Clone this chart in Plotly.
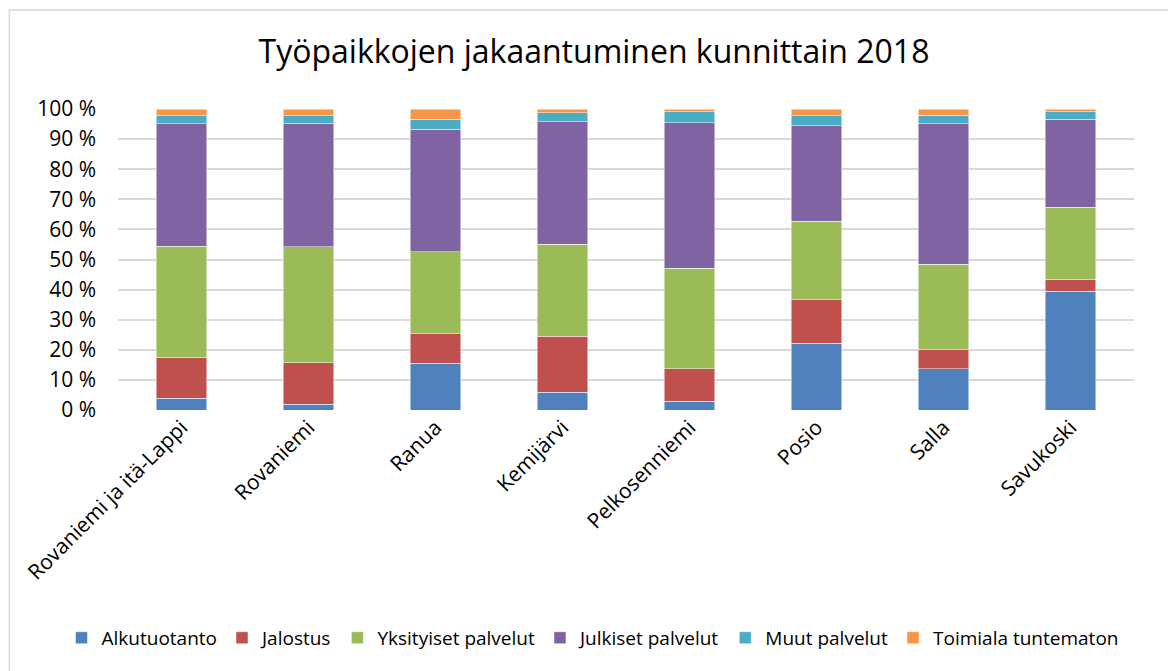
import plotly.graph_objects as go

categories = ["Rovaniemi ja itä-Lappi", "Rovaniemi", "Ranua", "Kemijärvi",
              "Pelkosenniemi", "Posio", "Salla", "Savukoski"]
series_names = ["Alkutuotanto", "Jalostus", "Yksityiset palvelut",
                "Julkiset palvelut", "Muut palvelut", "Toimiala tuntematon"]
alkutuotanto = [3.9, 1.9, 15.5, 5.9, 2.9, 22.1, 13.7, 39.4]
jalostus = [13.6, 13.8, 9.9, 18.6, 10.8, 14.6, 6.3, 4.0]
yksityiset = [36.9, 38.5, 27.1, 30.6, 33.4, 26.0, 28.5, 23.9]
julkiset = [40.7, 41.0, 40.7, 40.7, 48.4, 31.8, 46.6, 29.3]
muut = [2.7, 2.6, 3.4, 3.0, 3.6, 3.2, 2.8, 2.5]
tuntematon = [2.2, 2.2, 3.4, 1.2, 0.9, 2.3, 2.1, 0.9]
tick_vals = [0, 10, 20, 30, 40, 50, 60, 70, 80, 90, 100]
tick_text = [f"{v} %" for v in tick_vals]

colors = ["#4F81BD", "#C0504D", "#9BBB59", "#8064A2", "#4BACC6", "#F79646"]
all_series = [alkutuotanto, jalostus, yksityiset, julkiset, muut, tuntematon]

FONT = "Open Sans"
fig = go.Figure()
for name, vals, c in zip(series_names, all_series, colors):
    fig.add_trace(go.Bar(
        x=categories, y=vals, name=name,
        marker=dict(color=c, line=dict(color="rgba(255,255,255,0.6)", width=0.8)),
    ))

# page body has an 8px margin, so the figure is 8px smaller than the window
fig.update_layout(
    width=1168, height=663,
    barmode="stack", bargap=0.6,
    paper_bgcolor="white", plot_bgcolor="white",
    margin=dict(l=109.5, r=41.5, t=101, b=261, autoexpand=False),
    font=dict(family=FONT, size=19, color="#000000"),
    title=dict(text="Työpaikkojen jakaantuminen kunnittain 2018",
               x=0.5017, xref="container", xanchor="center",
               y=1 - 44 / 663, yref="container", yanchor="middle",
               font=dict(family=FONT, size=32, color="#000000")),
    showlegend=True,
    legend=dict(orientation="h", x=-0.0556, xanchor="left", xref="paper",
                y=-0.757, yanchor="middle", yref="paper",
                font=dict(family=FONT, size=19, color="#000000"),
                itemwidth=30, tracegroupgap=0, traceorder="normal"),
    xaxis=dict(tickangle=-45, showgrid=False, showline=False, ticks="",
               tickfont=dict(family=FONT, size=21, color="#000000")),
    yaxis=dict(range=[0, 100], tickvals=tick_vals, ticktext=tick_text,
               showgrid=True, gridcolor="#D9D9D9", gridwidth=1.5,
               zeroline=False, showline=False, ticks="", ticklabelstandoff=21,
               tickfont=dict(family=FONT, size=21, color="#000000")),
    shapes=[dict(type="rect", xref="paper", yref="paper",
                 x0=-0.1069, x1=1.3, y0=-1.3, y1=1.329,
                 line=dict(color="#D9D9D9", width=1.5), fillcolor="rgba(0,0,0,0)",
                 layer="below")],
)

fig.write_html("out.html")
